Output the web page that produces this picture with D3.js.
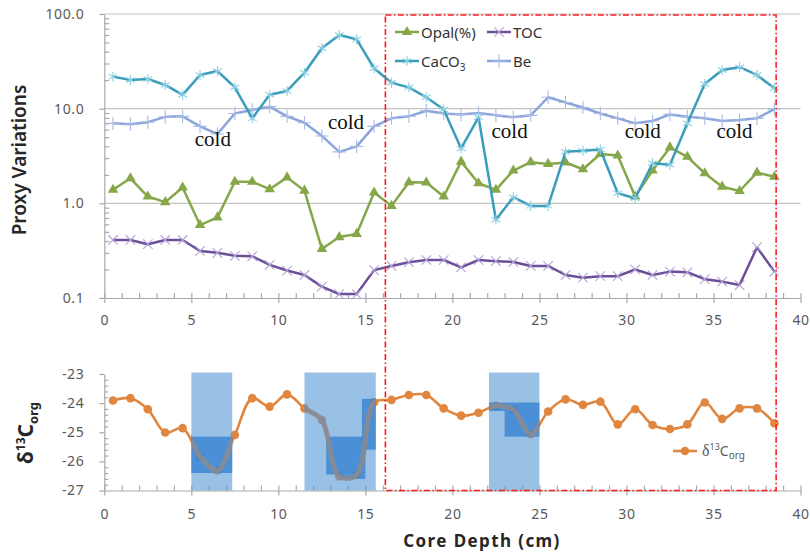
<!DOCTYPE html>
<html>
<head>
<meta charset="utf-8">
<script src="https://cdn.jsdelivr.net/npm/d3@7"></script>
<style>
  body { margin: 0; background: #fff; }
  svg { display: block; }
</style>
</head>
<body>
<svg id="chart" width="810" height="553"></svg>
<script>
// ---- data -------------------------------------------------------------
const depthCm = [0.5, 1.5, 2.5, 3.5, 4.5, 5.5, 6.5, 7.5, 8.5, 9.5, 10.5, 11.5, 12.5, 13.5, 14.5, 15.5,
  16.5, 17.5, 18.5, 19.5, 20.5, 21.5, 22.5, 23.5, 24.5, 25.5, 26.5, 27.5, 28.5, 29.5, 30.5, 31.5,
  32.5, 33.5, 34.5, 35.5, 36.5, 37.5, 38.5];

const opal = [1.39, 1.84, 1.18, 1.03, 1.47, 0.59, 0.71, 1.69, 1.69, 1.41, 1.88, 1.36, 0.33, 0.44,
  0.475, 1.30, 0.94, 1.67, 1.66, 1.18, 2.76, 1.63, 1.39, 2.22, 2.72, 2.61, 2.70, 2.29, 3.32, 3.20,
  1.18, 2.22, 3.90, 3.10, 2.08, 1.50, 1.35, 2.11, 1.91];

const toc = [0.41, 0.41, 0.37, 0.41, 0.41, 0.314, 0.30, 0.279, 0.276, 0.224, 0.195, 0.175, 0.132,
  0.11, 0.11, 0.197, 0.218, 0.239, 0.252, 0.252, 0.211, 0.252, 0.245, 0.24, 0.218, 0.218, 0.175,
  0.164, 0.17, 0.17, 0.20, 0.175, 0.19, 0.187, 0.158, 0.149, 0.137, 0.344, 0.19];

const caco3 = [21.8, 20.1, 20.6, 17.8, 14.0, 22.7, 25.0, 16.8, 7.9, 14.0, 15.4, 24.0, 43.4, 60.0,
  54.0, 26.7, 18.8, 16.8, 13.2, 9.8, 3.8, 8.1, 0.67, 1.16, 0.94, 0.94, 3.5, 3.6, 3.7, 1.28, 1.13,
  2.65, 2.55, 7.0, 18.2, 25.6, 27.4, 22.7, 16.4];

const be = [7.0, 6.84, 7.2, 8.2, 8.3, 6.5, 5.4, 8.9, 9.7, 10.5, 8.3, 7.1, 5.15, 3.5, 4.0, 6.5, 7.9,
  8.3, 9.5, 8.9, 8.7, 9.0, 8.5, 8.1, 8.5, 13.2, 11.6, 10.3, 8.9, 7.9, 7.0, 7.4, 8.7, 8.2, 7.9, 7.4,
  7.6, 7.9, 9.9];

const d13c = [-23.91, -23.83, -24.21, -25.01, -24.86, -25.83, -26.31, -25.09, -23.83, -24.12,
  -23.70, -24.18, -24.58, -26.52, -26.46, -23.97, -23.89, -23.72, -23.72, -24.18, -24.43, -24.33,
  -24.09, -24.23, -25.07, -24.29, -23.87, -24.06, -23.95, -24.73, -24.21, -24.75, -24.89, -24.73,
  -23.98, -24.54, -24.18, -24.18, -24.69];

const depthTicks = [0, 5, 10, 15, 20, 25, 30, 35, 40];
const proxyTicks = [0.1, 1, 10, 100];
const proxyTickLabels = ["0.1", "1.0", "10.0", "100.0"];
const d13Ticks = [-27, -26, -25, -24, -23];
const d13TickLabels = ["-27", "-26", "-25", "-24", "-23"];

// "cold" annotations: depth (cm) and proxy level of the text baseline
const coldDepth = [5.2, 12.85, 22.25, 29.9, 35.17];
const coldLevel = [4.0, 6.05, 4.94, 4.94, 4.94];

// shaded depth intervals on the isotope panel (cm, permil)
const bandFrom = [5.0, 11.5, 22.1];
const bandTo = [7.35, 15.6, 25.0];
const bandTop = -22.95, bandBottom = -27;
const coreFrom = [5.0, 12.75, 13.5, 14.8, 22.1, 23.0];
const coreTo = [7.35, 15.0, 15.0, 15.6, 25.0, 25.0];
const coreHigh = [-25.15, -25.15, -26.45, -23.85, -23.98, -24.27];
const coreLow = [-26.4, -26.45, -26.6, -25.6, -24.27, -25.15];

// dash-dot window spanning both panels (cm)
const windowFrom = 16.15, windowTo = 38.6;

// ---- layout -----------------------------------------------------------
const svg = d3.select("#chart");
const FONT = "'Noto Sans', 'Open Sans', sans-serif";
const AXIS = "#a9a9a9", LABEL = "#595959";

const x = d3.scaleLinear().domain([0, 40]).range([104.3, 800.5]);
const yTop = d3.scaleLog().domain([0.1, 100]).range([298, 14]);
const yBot = d3.scaleLinear().domain([-27, -23]).range([490.5, 374]);

function styleAxis(g) {
  g.selectAll("path.domain").attr("stroke", AXIS).attr("stroke-width", 1.2);
  g.selectAll(".tick line").attr("stroke", AXIS).attr("stroke-width", 1.2);
  g.selectAll(".tick text").attr("fill", LABEL).attr("font-family", FONT)
    .attr("font-size", 14).attr("letter-spacing", 0.6);
}

// ---- upper panel: proxies on log scale --------------------------------
const upper = svg.append("g");

// horizontal gridlines
upper.append("g").selectAll("line").data(proxyTicks.slice(1)).join("line")
  .attr("x1", x(0)).attr("x2", x(40))
  .attr("y1", d => yTop(d)).attr("y2", d => yTop(d))
  .attr("stroke", "#c4c4c4").attr("stroke-width", 1.2);

const logMinor = [];
[0.1, 1, 10].forEach(d => { for (let k = 2; k <= 9; k++) logMinor.push(d * k); });

upper.append("g").attr("transform", `translate(${x(0)},0)`)
  .call(d3.axisLeft(yTop).tickValues(proxyTicks).tickSize(5).tickSizeOuter(0).tickPadding(15)
    .tickFormat((d, i) => proxyTickLabels[i]))
  .call(styleAxis);
upper.append("g").attr("transform", `translate(${x(0)},0)`)
  .call(d3.axisRight(yTop).tickValues(logMinor).tickSize(5).tickSizeOuter(0).tickFormat(""))
  .call(g => g.select("path.domain").remove())
  .call(styleAxis);

upper.append("g").attr("transform", `translate(0,${yTop(0.1)})`)
  .call(d3.axisBottom(x).tickValues(depthTicks).tickSize(5).tickSizeOuter(0).tickPadding(12))
  .call(styleAxis);
upper.append("g").attr("transform", `translate(0,${yTop(0.1)})`)
  .call(d3.axisTop(x).tickValues(d3.range(0, 41)).tickSize(5).tickSizeOuter(0).tickFormat(""))
  .call(g => g.select("path.domain").remove())
  .call(styleAxis);

const proxySeries = [
  { name: "Opal(%)", values: opal, color: "#85a74a", marker: d3.symbolTriangle, fill: true, mcolor: "#85a74a", size: 48 },
  { name: "TOC", values: toc, color: "#6c4f98", marker: d3.symbolX, fill: false, mcolor: "#b3a3d6", size: 60 },
  { name: "Be", values: be, color: "#8ba4da", marker: d3.symbolPlus, fill: false, mcolor: "#a9bbe6", size: 60 },
  { name: "CaCO3", values: caco3, color: "#3a9dbc", marker: d3.symbolAsterisk, fill: false, mcolor: "#8dcfe2", size: 70 },
];

const proxyLine = d3.line().x((d, i) => x(depthCm[i])).y(d => yTop(d));

proxySeries.forEach(s => {
  const g = upper.append("g");
  g.append("path").datum(s.values).attr("d", proxyLine)
    .attr("fill", "none").attr("stroke", s.color).attr("stroke-width", 2.5)
    .attr("stroke-linejoin", "round");
  g.selectAll("path.m").data(s.values).join("path").attr("class", "m")
    .attr("transform", (d, i) => `translate(${x(depthCm[i])},${yTop(d)})`)
    .attr("d", d3.symbol(s.marker, s.size))
    .attr("fill", s.fill ? s.mcolor : "none")
    .attr("stroke", s.fill ? "none" : s.mcolor).attr("stroke-width", 1.1);
});

// "cold" annotations
upper.append("g").selectAll("text").data(coldDepth).join("text")
  .attr("x", d => x(d)).attr("y", (d, i) => yTop(coldLevel[i]))
  .attr("font-family", "'Liberation Serif', 'DejaVu Serif', serif")
  .attr("font-size", 21).attr("fill", "#111").text("cold");

// legend
const legendItems = [
  { s: proxySeries[0], lx: 395, ly: 32 },
  { s: proxySeries[1], lx: 487, ly: 32 },
  { s: proxySeries[3], lx: 395, ly: 61 },
  { s: proxySeries[2], lx: 487, ly: 61 },
];
const lg = upper.append("g");
legendItems.forEach(({ s, lx, ly }) => {
  lg.append("line").attr("x1", lx).attr("x2", lx + 24).attr("y1", ly).attr("y2", ly)
    .attr("stroke", s.color).attr("stroke-width", 2.5);
  lg.append("path").attr("transform", `translate(${lx + 12},${ly})`)
    .attr("d", d3.symbol(s.marker, s.size))
    .attr("fill", s.fill ? s.mcolor : "none")
    .attr("stroke", s.fill ? "none" : s.mcolor).attr("stroke-width", 1.1);
  const t = lg.append("text").attr("x", lx + 26).attr("y", ly + 5.5)
    .attr("font-family", FONT).attr("font-size", 15).attr("fill", "#333");
  if (s.name === "CaCO3") {
    t.append("tspan").text("CaCO");
    t.append("tspan").attr("font-size", 10).attr("dy", 4).text("3");
  } else {
    t.text(s.name);
  }
});

// y title
svg.append("text")
  .attr("transform", "translate(26,160) rotate(-90)")
  .attr("text-anchor", "middle")
  .attr("font-family", FONT).attr("font-size", 19).attr("font-weight", 600)
  .attr("fill", "#262626").text("Proxy Variations");

// ---- lower panel: organic carbon isotopes ----------------------------
const lower = svg.append("g");

const d13Minor = d3.range(-27, -22.99, 0.2).filter(v => Math.abs(v - Math.round(v)) > 1e-6);

lower.append("g").attr("transform", `translate(${x(0)},0)`)
  .call(d3.axisLeft(yBot).tickValues(d13Ticks).tickSize(5).tickSizeOuter(0).tickPadding(15)
    .tickFormat((d, i) => d13TickLabels[i]))
  .call(styleAxis);
lower.append("g").attr("transform", `translate(${x(0)},0)`)
  .call(d3.axisRight(yBot).tickValues(d13Minor).tickSize(4).tickSizeOuter(0).tickFormat(""))
  .call(g => g.select("path.domain").remove())
  .call(styleAxis);

lower.append("g").attr("transform", `translate(0,${yBot(-27)})`)
  .call(d3.axisBottom(x).tickValues(depthTicks).tickSize(5).tickSizeOuter(0).tickPadding(14))
  .call(styleAxis);
lower.append("g").attr("transform", `translate(0,${yBot(-27)})`)
  .call(d3.axisTop(x).tickValues(d3.range(0, 41)).tickSize(5).tickSizeOuter(0).tickFormat(""))
  .call(g => g.select("path.domain").remove())
  .call(styleAxis);

const ORANGE = "#e0863f";
const isoLine = d3.line().curve(d3.curveCatmullRom.alpha(0.5))
  .x((d, i) => x(depthCm[i])).y(d => yBot(d));

lower.append("path").datum(d13c).attr("d", isoLine)
  .attr("fill", "none").attr("stroke", ORANGE).attr("stroke-width", 2.6);
lower.append("g").selectAll("circle").data(d13c).join("circle")
  .attr("cx", (d, i) => x(depthCm[i])).attr("cy", d => yBot(d))
  .attr("r", 4.3).attr("fill", ORANGE);

// shaded intervals
lower.append("g").selectAll("rect").data(bandFrom).join("rect")
  .attr("x", d => x(d)).attr("width", (d, i) => x(bandTo[i]) - x(d))
  .attr("y", yBot(bandTop)).attr("height", yBot(bandBottom) - yBot(bandTop))
  .attr("fill", "#5b9bd5").attr("fill-opacity", 0.62);
lower.append("g").selectAll("rect").data(coreFrom).join("rect")
  .attr("x", d => x(d)).attr("width", (d, i) => x(coreTo[i]) - x(d))
  .attr("y", (d, i) => yBot(coreHigh[i]))
  .attr("height", (d, i) => yBot(coreLow[i]) - yBot(coreHigh[i]))
  .attr("fill", "#2c7dd0").attr("fill-opacity", 0.72);

// isotope trace re-drawn in grey inside the shaded intervals
const clip = svg.append("defs").append("clipPath").attr("id", "bandClip");
clip.selectAll("rect").data(bandFrom).join("rect")
  .attr("x", d => x(d)).attr("width", (d, i) => x(bandTo[i]) - x(d))
  .attr("y", yBot(bandTop)).attr("height", yBot(bandBottom) - yBot(bandTop));
lower.append("path").datum(d13c).attr("d", isoLine)
  .attr("clip-path", "url(#bandClip)")
  .attr("fill", "none").attr("stroke", "#8a8b93").attr("stroke-opacity", 0.9)
  .attr("stroke-width", 5).attr("stroke-linejoin", "round");

// isotope legend
const il = lower.append("g");
il.append("line").attr("x1", 673).attr("x2", 697).attr("y1", 451).attr("y2", 451)
  .attr("stroke", ORANGE).attr("stroke-width", 2.6);
il.append("circle").attr("cx", 685).attr("cy", 451).attr("r", 4.3).attr("fill", ORANGE);
const ilt = il.append("text").attr("x", 702).attr("y", 456)
  .attr("font-family", FONT).attr("font-size", 14).attr("fill", LABEL);
ilt.append("tspan").attr("font-family", "'Liberation Serif', serif").attr("font-size", 16).text("δ");
ilt.append("tspan").attr("font-size", 9).attr("dy", -6).text("13");
ilt.append("tspan").attr("dy", 6).text("C");
ilt.append("tspan").attr("font-size", 10).attr("dy", 3).text("org");

// y title
const yt = svg.append("text")
  .attr("transform", "translate(33,433) rotate(-90)")
  .attr("text-anchor", "middle")
  .attr("font-family", FONT).attr("font-weight", 700).attr("fill", "#262626");
yt.append("tspan").attr("font-size", 21).text("δ");
yt.append("tspan").attr("font-size", 12).attr("dy", -8).text("13");
yt.append("tspan").attr("font-size", 21).attr("dy", 8).text("C");
yt.append("tspan").attr("font-size", 13).attr("dy", 5).text("org");

// x title
svg.append("text").attr("x", 482).attr("y", 547).attr("text-anchor", "middle")
  .attr("font-family", FONT).attr("font-size", 17).attr("font-weight", 700)
  .attr("letter-spacing", 1.4).attr("fill", "#262626").text("Core Depth (cm)");

// dash-dot window across both panels
svg.append("rect")
  .attr("x", x(windowFrom)).attr("y", yTop(100) + 1)
  .attr("width", x(windowTo) - x(windowFrom))
  .attr("height", yBot(-27) - yTop(100) - 1)
  .attr("fill", "none").attr("stroke", "#ff1a1a").attr("stroke-width", 1.6)
  .attr("stroke-dasharray", "6,2.5,1.5,2.5");
</script>
</body>
</html>
